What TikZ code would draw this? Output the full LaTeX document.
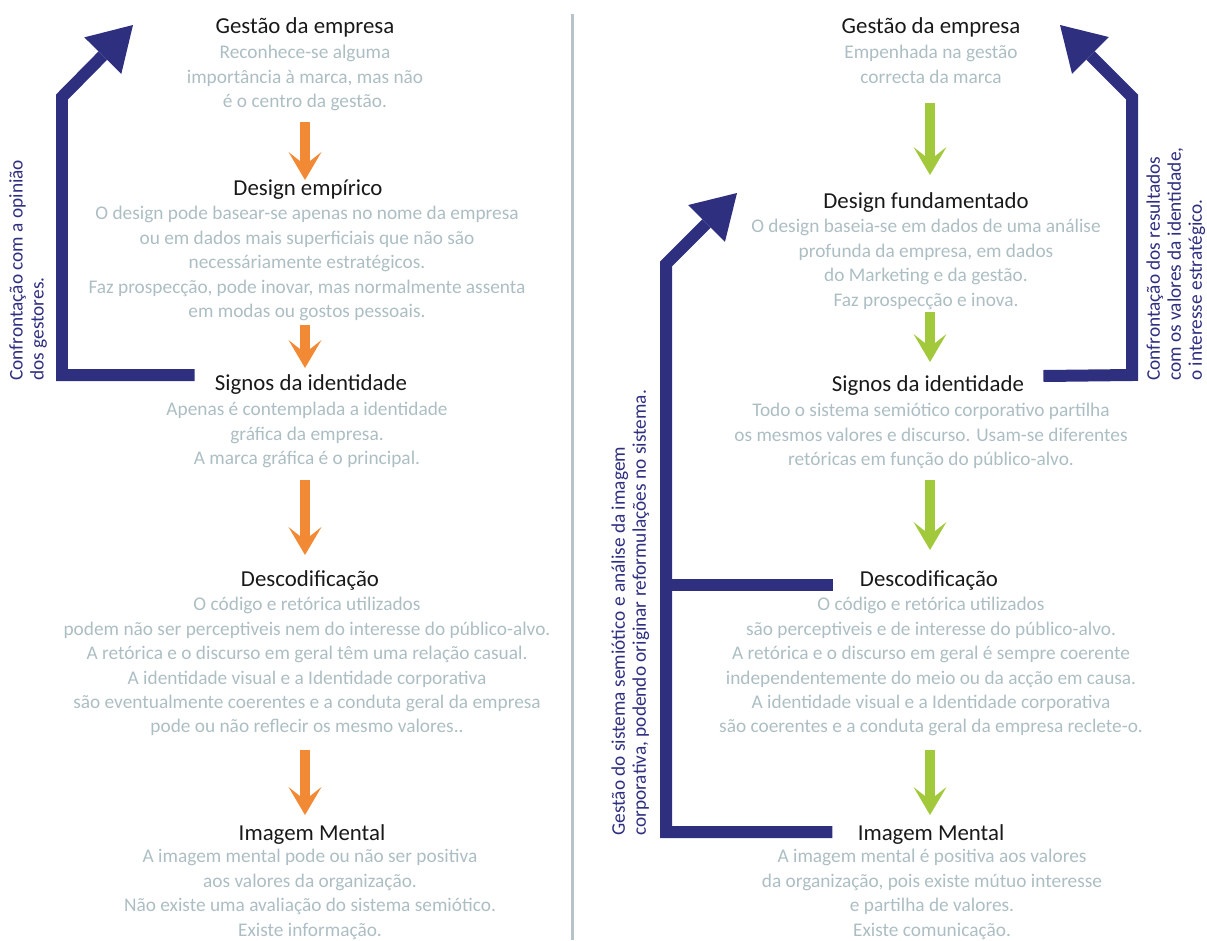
\documentclass[tikz,border=0pt]{standalone}
\usepackage{fontspec}
\setmainfont{Carlito}
\usetikzlibrary{arrows.meta, positioning, calc}

\definecolor{headC}{RGB}{25,25,25}
\definecolor{bodyC}{RGB}{172,190,195}
\definecolor{orangeC}{RGB}{242,137,52}
\definecolor{greenC}{RGB}{162,201,60}
\definecolor{blueC}{RGB}{47,47,128}
\definecolor{ruleC}{RGB}{182,196,200}

\begin{document}
\begin{tikzpicture}[x=0.02cm, y=-0.02cm,
	head/.style={font=\fontsize{13}{15}\selectfont, text=headC, inner sep=0pt},
	body/.style={font=\fontsize{11}{13.9}\selectfont, text=bodyC, align=center, inner sep=0pt, anchor=north},
	orangearr/.style={draw=orangeC, line width=0.2cm, -{Stealth[length=0.56cm, width=0.66cm, inset=0.26cm, line width=0pt]}},
	greenarr/.style={orangearr, draw=greenC},
	loopline/.style={draw=blueC, line width=0.24cm, line join=miter, -{Triangle[length=0.86cm, width=1.04cm, line width=0pt]}},
	sidenote/.style={font=\fontsize{11}{12}\selectfont, text=blueC, align=left, rotate=90, inner sep=0pt, anchor=north west}]
			\useasboundingbox (0, 0) rectangle (1207, 940);
			
			\draw[ruleC, line width=0.06cm] (572, 14) -- (572, 940);
			
			% left column
			\node[head] (gestL) at (305, 27) {Gestão da empresa};
			\node[body] (gestLtxt) at (305, 45) {Reconhece-se alguma\\importância à marca, mas não\\é o centro da gestão.};
			\node[head] (desL) at (308, 190) {Design empírico};
			\node[body] (desLtxt) at (307, 206) {O design pode basear-se apenas no nome da empresa\\ou em dados mais superficiais que não são\\necessáriamente estratégicos.\\Faz prospecção, pode inovar, mas normalmente assenta\\em modas ou gostos pessoais.};
			\node[head] (sigL) at (311, 385) {Signos da identidade};
			\node[body] (sigLtxt) at (307, 402) {Apenas é contemplada a identidade\\gráfica da empresa.\\A marca gráfica é o principal.};
			\node[head] (decL) at (310, 580) {Descodificação};
			\node[body] (decLtxt) at (307, 597) {O código e retórica utilizados\\podem não ser perceptiveis nem do interesse do público-alvo.\\A retórica e o discurso em geral têm uma relação casual.\\A identidade visual e a Identidade corporativa\\são eventualmente coerentes e a conduta geral da empresa\\pode ou não reflecir os mesmo valores..};
			\node[head] (imgL) at (312, 835) {Imagem Mental};
			\node[body] (imgLtxt) at (310, 849) {A imagem mental pode ou não ser positiva\\aos valores da organização.\\Não existe uma avaliação do sistema semiótico.\\Existe informação.};
			
			\draw[orangearr, shorten <=4] (305, 115) -- (305, 180);
			\draw[orangearr] (305, 325) -- (305, 368);
			\draw[orangearr] (305, 480) -- (305, 555);
			\draw[orangearr] (305, 750) -- (305, 815);
			
			% right column
			\node[head] (gestR) at (931, 27) {Gestão da empresa};
			\node[body] (gestRtxt) at (931, 45) {Empenhada na gestão\\correcta da marca};
			\node[head] (desR) at (926, 203) {Design fundamentado};
			\node[body] (desRtxt) at (926, 219) {O design baseia-se em dados de uma análise\\profunda da empresa, em dados\\do Marketing e da gestão.\\Faz prospecção e inova.};
			\node[head] (sigR) at (928, 386) {Signos da identidade};
			\node[body] (sigRtxt) at (931, 403) {Todo o sistema semiótico corporativo partilha\\os mesmos valores e discurso. Usam-se diferentes\\retóricas em função do público-alvo.};
			\node[head] (decR) at (929, 580) {Descodificação};
			\node[body] (decRtxt) at (931, 597) {O código e retórica utilizados\\são perceptiveis e de interesse do público-alvo.\\A retórica e o discurso em geral é sempre coerente\\independentemente do meio ou da acção em causa.\\A identidade visual e a Identidade corporativa\\são coerentes e a conduta geral da empresa reclete-o.};
			\node[head] (imgR) at (931, 835) {Imagem Mental};
			\node[body] (imgRtxt) at (932, 849) {A imagem mental é positiva aos valores\\da organização, pois existe mútuo interesse\\e partilha de valores.\\Existe comunicação.};
			
			\draw[greenarr] (930, 103) -- (930, 175);
			\draw[greenarr] (930, 312) -- (930, 362);
			\draw[greenarr] (930, 480) -- (930, 550);
			\draw[greenarr] (930, 750) -- (930, 815);
			
			% feedback loops
			\coordinate (loopLend) at (133, 25);
			\coordinate (loopRend) at (1060, 25);
			\coordinate (loopMend) at (737, 193);
			
			\draw[loopline] ($(sigL.west)+(-20, -10)$) -- (62, 375) -- (62, 97) -- (loopLend);
			\draw[loopline] ($(sigR.east)+(19, -10)$) -- (1132, 375) -- (1132, 97) -- (loopRend);
			\draw[loopline] ($(imgR.west)+(-25, -3)$) -- (666, 832) -- (666, 264) -- (loopMend);
			\draw[draw=blueC, line width=0.24cm] ($(decR.west)+(-27, 5)$) -- (660, 585);
			
			\node[sidenote] (noteL) at (9, 381) {Confrontação com a opinião\\dos gestores.};
			\node[sidenote] (noteR) at (1146, 381) {Confrontação dos resultados\\com os valores da identidade,\\o interesse estratégico.};
			\node[sidenote] (noteM) at (611, 836) {Gestão do sistema semiótico e análise da imagem\\corporativa, podendo originar reformulações no sistema.};
			
		\end{tikzpicture}
\end{document}
